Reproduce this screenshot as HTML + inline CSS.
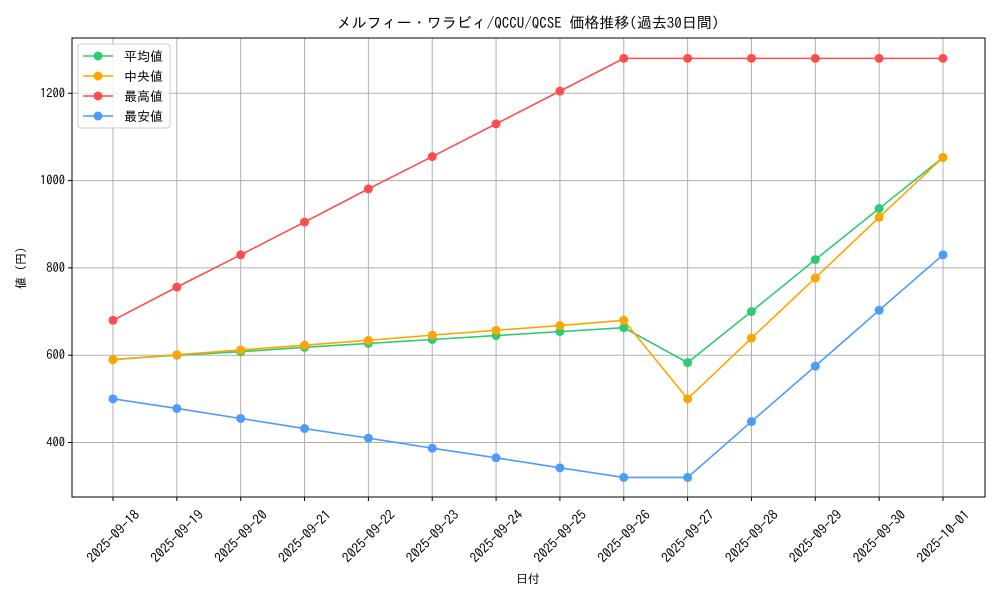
<!DOCTYPE html>
<html><head><meta charset="utf-8"><style>
body{margin:0;background:#fff}
text{font-family:"IPAGothic","Liberation Sans","Noto Sans CJK JP",sans-serif}
</style></head><body>
<svg id="chart" width="1000" height="600" xmlns="http://www.w3.org/2000/svg">
<rect width="1000" height="600" fill="#fff"/>
<text x="528" y="28" font-size="15" text-anchor="middle">メルフィー・ワラビィ/QCCU/QCSE 価格推移(過去30日間)</text>
<g id="grid"></g><g id="series"></g><g id="axes"></g>
<text x="528" y="583" font-size="12" text-anchor="middle">日付</text>
<text transform="translate(25,268) rotate(-90)" font-size="12" text-anchor="middle">値 (円)</text>
<g id="legend">
<rect x="78" y="44" width="92" height="84" rx="3" fill="#fff" fill-opacity="0.8" stroke="#ccc"/>
</g>
</svg>
<script>
const categories=["2025-09-18","2025-09-19","2025-09-20","2025-09-21","2025-09-22","2025-09-23","2025-09-24","2025-09-25","2025-09-26","2025-09-27","2025-09-28","2025-09-29","2025-09-30","2025-10-01"];
const meanValues=[590,600,608,618,627,636,645,654,663,583,700,819,936,1053];
const medianValues=[590,601,612,623,634,646,657,668,680,500,639,777,916,1053];
const maxValues=[680,756,830,905,981,1055,1130,1205,1280,1280,1280,1280,1280,1280];
const minValues=[500,478,455,432,410,387,365,342,320,320,448,575,703,830];
const yTicks=[400,600,800,1000,1200];
const seriesNames=["平均値","中央値","最高値","最安値"];
const colors=["#2ecc71","#ffa500","#ff4d4d","#4d9bff"];
const NS="http://www.w3.org/2000/svg";
const L=72,R=985,T=38,B=497;
const x=i=>113+i*(943-113)/(categories.length-1);
const y=v=>442.5-(v-400)*0.4365;
function mk(tag,attrs,parent){const e=document.createElementNS(NS,tag);for(const k in attrs)e.setAttribute(k,attrs[k]);parent.appendChild(e);return e;}
const grid=document.getElementById('grid'),axes=document.getElementById('axes'),ser=document.getElementById('series'),leg=document.getElementById('legend');
categories.forEach((c,i)=>{
 const g=mk('line',{x1:x(i),x2:x(i),y1:T,y2:B,stroke:'#b0b0b0','stroke-width':1},grid);
 
 
 mk('line',{x1:x(i),x2:x(i),y1:B,y2:B+4,stroke:'#000'},axes);
 const t=mk('text',{transform:`translate(${x(i)},${B+39}) rotate(-45)`,'font-size':13.5,'text-anchor':'middle','dominant-baseline':'central'},axes);
 t.textContent=c;
 
 
});
yTicks.forEach(v=>{
 const g=mk('line',{x1:L,x2:R,y1:y(v),y2:y(v),stroke:'#b0b0b0','stroke-width':1},grid);
 
 
 mk('line',{x1:L-4,x2:L,y1:y(v),y2:y(v),stroke:'#000'},axes);
 const t=mk('text',{x:L-7,y:y(v)+4,'font-size':12.5,'text-anchor':'end'},axes);
 t.textContent=v;
 
 
});
const fr=mk('rect',{x:L,y:T,width:R-L,height:B-T,fill:'none',stroke:'#000','stroke-width':1},axes);


[meanValues,medianValues,maxValues,minValues].forEach((vals,s)=>{
 const g=mk('g',{},ser);
 
 
 mk('polyline',{points:vals.map((v,i)=>x(i)+','+y(v)).join(' '),fill:'none',stroke:colors[s],'stroke-width':1.6},g);
 vals.forEach((v,i)=>{
  const p=mk('circle',{cx:x(i),cy:y(v),r:4.5,fill:colors[s]},g);
  
  
 });
 const ly=56+s*20;
 const le=mk('g',{},leg);
 
 
 mk('line',{x1:83,x2:113,y1:ly,y2:ly,stroke:colors[s],'stroke-width':1.6},le);
 mk('circle',{cx:98,cy:ly,r:4.5,fill:colors[s]},le);
 const t=mk('text',{x:124,y:ly+5,'font-size':13},le);
 t.textContent=seriesNames[s];
});
</script>
</body></html>
